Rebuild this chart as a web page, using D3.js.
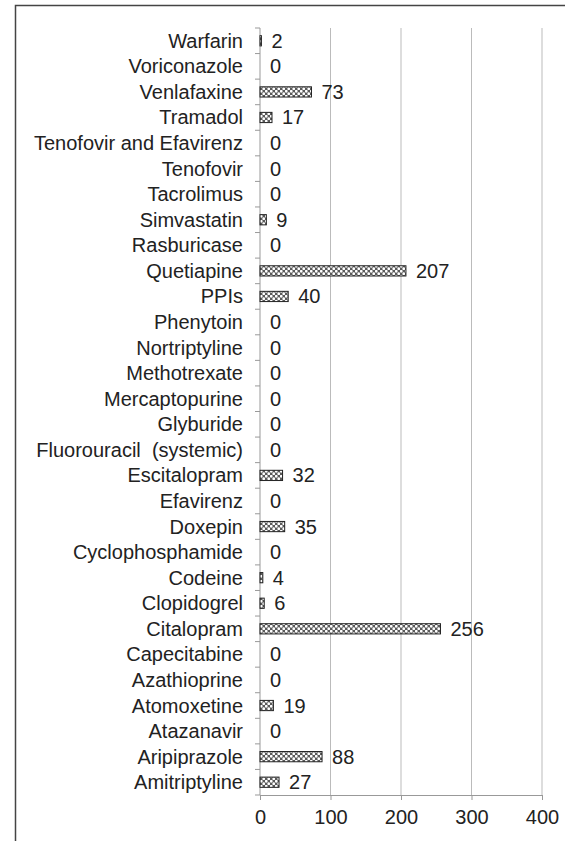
<!DOCTYPE html>
<html>
<head>
<meta charset="utf-8">
<script src="https://cdn.jsdelivr.net/npm/d3@7"></script>
<style>
  body { margin: 0; background: #fff; }
  text { font-family: "Liberation Sans", Arial, sans-serif; fill: #222; }
</style>
</head>
<body>
<script>
// drugs, bottom to top as in the picture
var drugs = ['Amitriptyline', 'Aripiprazole', 'Atazanavir', 'Atomoxetine', 'Azathioprine',
  'Capecitabine', 'Citalopram', 'Clopidogrel', 'Codeine', 'Cyclophosphamide', 'Doxepin',
  'Efavirenz', 'Escitalopram', 'Fluorouracil  (systemic)', 'Glyburide', 'Mercaptopurine',
  'Methotrexate', 'Nortriptyline', 'Phenytoin', 'PPIs', 'Quetiapine', 'Rasburicase',
  'Simvastatin', 'Tacrolimus', 'Tenofovir', 'Tenofovir and Efavirenz', 'Tramadol',
  'Venlafaxine', 'Voriconazole', 'Warfarin'];
var counts = [27, 88, 0, 19, 0, 0, 256, 6, 4, 0, 35, 0, 32, 0, 0, 0, 0, 0, 0, 40, 207, 0,
  9, 0, 0, 0, 17, 73, 0, 2];
var xTicks = [0, 100, 200, 300, 400];

var W = 565, H = 841;
var margin = {top: 28, left: 260, right: 23, bottom: 46};
var fontSize = '20px';

var svg = d3.select('body').append('svg')
  .attr('width', W)
  .attr('height', H);

var defs = svg.append('defs');
var pat = defs.append('pattern')
  .attr('id', 'dots')
  .attr('patternUnits', 'userSpaceOnUse')
  .attr('width', 5)
  .attr('height', 5);
pat.append('rect').attr('width', 5).attr('height', 5).attr('fill', '#5a5a5a');
pat.append('circle').attr('cx', 1.25).attr('cy', 1.25).attr('r', 1.4).attr('fill', '#fff');
pat.append('circle').attr('cx', 3.75).attr('cy', 3.75).attr('r', 1.4).attr('fill', '#fff');

// outer frame, only top and left edges show
svg.append('rect')
  .attr('x', 15.5).attr('y', 5.5)
  .attr('width', W + 10).attr('height', H + 10)
  .attr('fill', 'none')
  .attr('stroke', '#444')
  .attr('stroke-width', 1.5);

var x = d3.scaleLinear()
  .domain([0, 400])
  .range([margin.left, W - margin.right]);

var y = d3.scaleBand()
  .domain(drugs.slice().reverse())
  .range([margin.top, H - margin.bottom])
  .paddingInner(0.6)
  .paddingOuter(0.3);

var plotBottom = H - margin.bottom;
var step = y.step();

// gridlines
svg.append('g')
  .selectAll('line')
  .data(xTicks.slice(1))
  .join('line')
  .attr('x1', function(d) { return x(d); })
  .attr('x2', function(d) { return x(d); })
  .attr('y1', margin.top)
  .attr('y2', plotBottom)
  .attr('stroke', '#bbb')
  .attr('stroke-width', 1);

// x axis
var xAxis = svg.append('g')
  .attr('transform', 'translate(0,' + plotBottom + ')')
  .call(d3.axisBottom(x).tickValues(xTicks).tickSize(5).tickPadding(10));
xAxis.select('.domain').attr('stroke', '#999');
xAxis.selectAll('.tick line').attr('stroke', '#999');
xAxis.selectAll('text').style('font-size', fontSize).attr('fill', '#222');

// y axis line and tick marks between categories
svg.append('line')
  .attr('x1', margin.left).attr('x2', margin.left)
  .attr('y1', margin.top).attr('y2', plotBottom)
  .attr('stroke', '#999');
var boundaries = d3.range(drugs.length + 1).map(function(i) { return margin.top + i * step; });
svg.append('g')
  .selectAll('line')
  .data(boundaries)
  .join('line')
  .attr('x1', margin.left - 5).attr('x2', margin.left)
  .attr('y1', function(d) { return d; })
  .attr('y2', function(d) { return d; })
  .attr('stroke', '#999');

// category labels
svg.append('g')
  .selectAll('text')
  .data(drugs)
  .join('text')
  .attr('x', margin.left - 17)
  .attr('y', function(d) { return y(d) + y.bandwidth() / 2; })
  .attr('dy', '0.35em')
  .attr('text-anchor', 'end')
  .style('font-size', fontSize)
  .style('white-space', 'pre')
  .text(function(d) { return d; });

// bars
svg.append('g')
  .selectAll('rect')
  .data(drugs)
  .join('rect')
  .filter(function(d, i) { return counts[i] > 0; })
  .attr('x', x(0))
  .attr('y', function(d) { return y(d); })
  .attr('height', y.bandwidth())
  .attr('width', function(d) { return x(counts[drugs.indexOf(d)]) - x(0); })
  .attr('fill', 'url(#dots)')
  .attr('stroke', '#222')
  .attr('stroke-width', 1);

// value labels
svg.append('g')
  .selectAll('text')
  .data(drugs)
  .join('text')
  .attr('x', function(d, i) { return x(counts[i]) + 10; })
  .attr('y', function(d) { return y(d) + y.bandwidth() / 2; })
  .attr('dy', '0.35em')
  .style('font-size', fontSize)
  .text(function(d, i) { return counts[i]; });
</script>
</body>
</html>
